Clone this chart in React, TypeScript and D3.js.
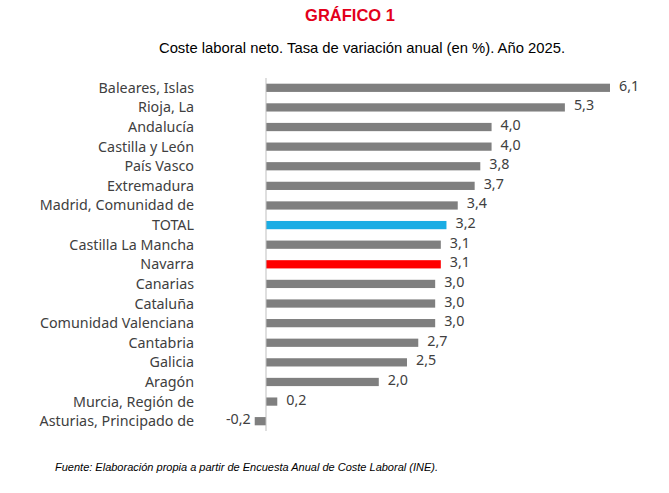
import React from "react";
import * as d3 from "d3";

const categories = [
  "Baleares, Islas", "Rioja, La", "Andalucía", "Castilla y León", "País Vasco",
  "Extremadura", "Madrid, Comunidad de", "TOTAL", "Castilla La Mancha", "Navarra",
  "Canarias", "Cataluña", "Comunidad Valenciana", "Cantabria", "Galicia", "Aragón",
  "Murcia, Región de", "Asturias, Principado de",
];
const values = [6.1, 5.3, 4.0, 4.0, 3.8, 3.7, 3.4, 3.2, 3.1, 3.1, 3.0, 3.0, 3.0, 2.7, 2.5, 2.0, 0.2, -0.2];

const colorFor = (c: string) => (c === "TOTAL" ? "#1AADE4" : c === "Navarra" ? "#FF0000" : "#7F7F7F");
const fmt = (v: number) => v.toFixed(1).replace(".", ",");

export default function App() {
  const width = 669, height = 493;
  const x = d3.scaleLinear().domain([0, 6.1]).range([266, 610]);
  const y = d3.scaleBand().domain(categories).range([78, 431]).paddingInner(0.58).paddingOuter(0.29);
  const font = "'Noto Sans', sans-serif";
  return (
    <svg width={width} height={height} style={{ position: "absolute", left: 0, top: 0 }}>
      <rect width={width} height={height} fill="#fff" />
      <text x={350} y={21} textAnchor="middle" fill="#E3001B" fontFamily="'Liberation Sans', Arial" fontWeight="bold" fontSize={16.5}>GRÁFICO 1</text>
      <text x={362} y={53} textAnchor="middle" fill="#000" fontFamily="'Liberation Sans', Arial" fontSize={14.8}>Coste laboral neto. Tasa de variación anual (en %). Año 2025.</text>
      {categories.map((c, i) => {
        const v = values[i];
        const yc = y(c)! + y.bandwidth() / 2;
        const x0 = x(Math.min(0, v)), x1 = x(Math.max(0, v));
        return (
          <g key={c}>
            <rect x={x0} y={y(c)} width={x1 - x0} height={y.bandwidth()} fill={colorFor(c)} />
            <text x={194} y={yc} dy="0.35em" textAnchor="end" fontFamily={font} fontSize={14.3} fill="#404040">{c}</text>
            <text x={v < 0 ? x0 - 4 : x1 + 9} y={yc - 2} dy="0.35em" textAnchor={v < 0 ? "end" : "start"} fontFamily={font} fontSize={14.3} fill="#404040">{fmt(v)}</text>
          </g>
        );
      })}
      <line x1={x(0)} x2={x(0)} y1={78} y2={431} stroke="#BFBFBF" />
      <text x={55} y={471} fontFamily="'Liberation Sans', Arial" fontStyle="italic" fontSize={11} fill="#000">Fuente: Elaboración propia a partir de Encuesta Anual de Coste Laboral (INE).</text>
    </svg>
  );
}
